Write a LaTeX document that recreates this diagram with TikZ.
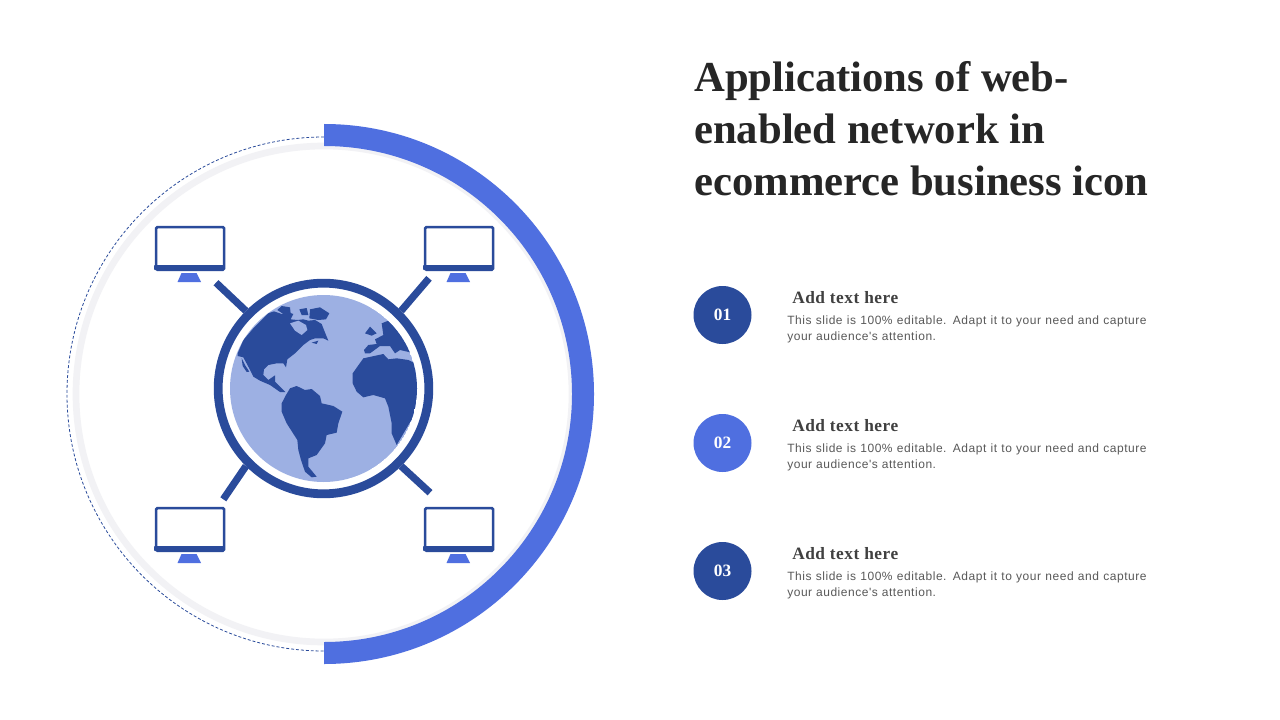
\documentclass[tikz,border=0pt]{standalone}
\usepackage{fontspec}
\setmainfont{Liberation Serif}
\newfontfamily\bodyfont[LetterSpace=4.5]{Liberation Sans}
\definecolor{darkblue}{HTML}{2A4B9B}
\definecolor{midblue}{HTML}{4F6FE0}
\definecolor{earth}{HTML}{9DB0E3}
\definecolor{palering}{HTML}{F2F2F5}
\definecolor{headtext}{HTML}{262626}
\definecolor{subtext}{HTML}{404040}
\definecolor{bodytext}{HTML}{595959}
\tikzset{
  badge/.style={circle,minimum size=43.5pt,inner sep=0pt,text=white,font=\bfseries\fontsize{13}{15}\selectfont},
  subhead/.style={anchor=base west,inner sep=0pt,text=subtext,font=\bfseries\fontsize{13}{15}\selectfont\addfontfeature{LetterSpace=3}},
  bodycopy/.style={anchor=north west,inner sep=0pt,text width=269.5pt,align=justify,text=bodytext,font=\bodyfont\fontsize{9}{12}\selectfont},
  screen/.style={draw=darkblue,line width=2pt,fill=white,rounded corners=1pt,minimum width=51pt,minimum height=32pt,inner sep=0pt},
  link/.style={draw=darkblue,line width=5.4pt},
  land/.style={fill=darkblue,draw=none}
}
\newcommand{\monitor}[3]{%
  \fill[midblue] (#1+27.5,#2+48) -- (#1+42.5,#2+48) -- (#1+47,#2+57) -- (#1+23.5,#2+57) -- cycle;
  \node[screen,anchor=north west] (#3) at (#1+0.8,#2+0.8) {};
  \fill[darkblue,rounded corners=0.7pt] (#1,#2+40) rectangle (#1+70,#2+45);
}
\begin{document}
\begin{tikzpicture}[x=0.75pt,y=-0.75pt]
\useasboundingbox (0,0) rectangle (1280,720);
\fill[white] (0,0) rectangle (1280,720);
% outer rings
\draw[palering,line width=5pt] (324,394) circle (248);
\draw[darkblue,line width=0.6pt,dash pattern=on 2.2pt off 1.5pt] (324,137) arc (-90:-270:257);
\fill[midblue] (324,124) arc (-90:90:270) -- (324,642) arc (90:-90:248) -- cycle;
% monitors
\monitor{154}{225}{montl}
\monitor{423}{225}{montr}
\monitor{154}{506}{monbl}
\monitor{423}{506}{monbr}
% hub
\coordinate (endtl) at (216,282.7);
\coordinate (endtr) at (429,278.3);
\coordinate (endbl) at (223.3,499.3);
\coordinate (endbr) at (430,492.7);
\node[circle,draw=darkblue,line width=6.6pt,minimum size=158pt,inner sep=0pt] (hub) at (323.5,388.5) {};
\draw[link] (endtl) -- (hub.135);
\draw[link] (endtr) -- (hub.45);
\draw[link] (endbl) -- (hub.-135);
\draw[link] (endbr) -- (hub.-45);
% globe
\begin{scope}
\clip (323.5,388.5) circle (93.5);
\fill[earth] (323.5,388.5) circle (93.5);
\begin{scope}[shift={(200,270)},x=0.25pt,y=-0.25pt]
% North America
\fill[land] (113,250) -- (130,210) -- (160,175) -- (205,130) -- (222,124) -- (245,132) -- (262,126) -- (280,132) -- (272,148) -- (292,150) -- (310,148) -- (325,152) -- (345,150) -- (365,162) -- (372,180) -- (385,212) -- (370,205) -- (345,205) -- (330,210) -- (310,225) -- (285,250) -- (262,268) -- (258,292) -- (250,280) -- (230,280) -- (205,285) -- (192,298) -- (190,315) -- (205,330) -- (225,316) -- (225,335) -- (240,350) -- (256,366) -- (240,366) -- (210,345) -- (180,332) -- (160,320) -- (145,290) -- (130,262) -- (113,258) -- cycle;
\fill[earth] (270,160) -- (295,152) -- (318,165) -- (322,180) -- (305,195) -- (285,182) -- cycle;
\fill[land] (125,265) -- (135,285) -- (148,305) -- (140,306) -- (128,288) -- cycle;
% arctic islands
\fill[land] (232,120) -- (245,108) -- (270,112) -- (272,130) -- (250,132) -- cycle;
\fill[land] (298,118) -- (320,114) -- (325,135) -- (305,135) -- cycle;
\fill[land] (330,118) -- (360,112) -- (388,130) -- (378,148) -- (355,150) -- (328,145) -- cycle;
\fill[land] (335,218) -- (355,212) -- (350,222) -- cycle;
% South America
\fill[land] (245,400) -- (258,375) -- (270,355) -- (290,348) -- (315,360) -- (335,357) -- (360,378) -- (365,400) -- (400,408) -- (427,425) -- (415,460) -- (410,488) -- (380,495) -- (375,520) -- (350,555) -- (325,565) -- (325,590) -- (350,620) -- (335,622) -- (315,605) -- (303,570) -- (295,540) -- (292,510) -- (260,460) -- (245,425) -- cycle;
% Africa
\fill[land] (458,310) -- (490,265) -- (550,252) -- (565,268) -- (590,265) -- (625,270) -- (655,285) -- (655,370) -- (640,440) -- (590,525) -- (575,490) -- (575,460) -- (565,410) -- (555,385) -- (520,375) -- (490,382) -- (470,365) -- (458,340) -- cycle;
% Europe
\fill[land] (492,240) -- (505,225) -- (530,222) -- (525,208) -- (550,195) -- (545,160) -- (570,150) -- (600,190) -- (640,250) -- (622,245) -- (600,240) -- (585,250) -- (570,228) -- (540,228) -- (510,250) -- (495,250) -- cycle;
\fill[land] (495,190) -- (510,170) -- (530,190) -- (515,197) -- cycle;
\end{scope}
\end{scope}
% title
\node[anchor=base west,inner sep=0pt,align=left,text=headtext,font=\bfseries\fontsize{32}{39}\selectfont] (title) at (694,196) {Applications of web-\\enabled network in\\ecommerce business icon};
% items
\node[badge,fill=darkblue] (b1) at (722.5,315) {01};
\node[badge,fill=midblue] (b2) at (722.5,443) {02};
\node[badge,fill=darkblue] (b3) at (722.5,571) {03};
\node[subhead] (h1) at (792,303) {Add text here};
\node[subhead] (h2) at (792,431) {Add text here};
\node[subhead] (h3) at (792,559) {Add text here};
\node[bodycopy] (t1) at (787,316) {This slide is 100\% editable. Adapt it to your need and capture your audience's attention.};
\node[bodycopy] (t2) at (787,444) {This slide is 100\% editable. Adapt it to your need and capture your audience's attention.};
\node[bodycopy] (t3) at (787,572) {This slide is 100\% editable. Adapt it to your need and capture your audience's attention.};
\end{tikzpicture}
\end{document}
